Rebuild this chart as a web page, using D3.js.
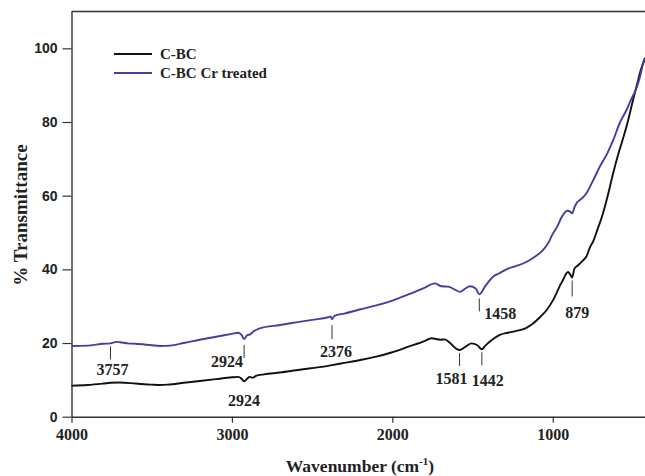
<!DOCTYPE html>
<html>
<head>
<meta charset="utf-8">
<script src="https://cdn.jsdelivr.net/npm/d3@7"></script>
<style>
  body { margin: 0; background: #fff; }
  svg { display: block; }
</style>
</head>
<body>
<svg id="chart" width="645" height="476"></svg>
<script>
// series: [wavenumber, % transmittance]
const cbc = [
  [4000, 8.4], [3900, 8.6], [3800, 9.0], [3757, 9.2], [3700, 9.3], [3600, 9.0],
  [3500, 8.7], [3449, 8.6], [3400, 8.7], [3300, 9.2], [3200, 9.7], [3100, 10.2],
  [3000, 10.7], [2960, 10.8], [2940, 10.3], [2924, 9.6], [2905, 10.3], [2890, 10.8],
  [2870, 10.6], [2850, 11.1], [2800, 11.5], [2700, 12.0], [2600, 12.6], [2500, 13.2],
  [2400, 13.8], [2376, 14.0], [2300, 14.6], [2200, 15.4], [2100, 16.3], [2000, 17.5],
  [1900, 19.0], [1800, 20.5], [1756, 21.3], [1700, 20.9], [1673, 21.0], [1640, 20.0],
  [1600, 18.4], [1581, 18.1], [1550, 18.8], [1507, 19.9], [1470, 19.4], [1442, 18.3],
  [1420, 19.3], [1380, 20.8], [1330, 22.2], [1280, 22.8], [1226, 23.3], [1170, 24.0],
  [1123, 25.3], [1080, 27.0], [1039, 28.9], [1000, 31.5], [977, 33.5], [955, 35.6],
  [936, 37.1], [915, 38.9], [905, 39.3], [890, 38.5], [879, 37.8], [865, 40.2],
  [842, 41.1], [810, 42.5], [791, 43.4], [767, 46.1], [749, 47.5], [720, 51.0],
  [697, 53.8], [660, 59.5], [624, 66.0], [590, 71.5], [562, 75.5], [530, 80.5],
  [500, 85.9], [470, 91.0], [458, 93.1], [440, 95.6], [425, 97.4]
];

const cbcCr = [
  [4000, 19.2], [3900, 19.3], [3800, 19.8], [3757, 19.9], [3720, 20.3], [3697, 20.2],
  [3650, 19.9], [3600, 19.8], [3500, 19.4], [3449, 19.2], [3386, 19.3], [3300, 20.0],
  [3200, 20.9], [3100, 21.7], [3000, 22.5], [2960, 22.8], [2940, 22.2], [2924, 21.1],
  [2905, 22.1], [2885, 22.4], [2867, 23.1], [2826, 24.0], [2700, 24.9], [2600, 25.6],
  [2500, 26.3], [2400, 27.0], [2385, 27.2], [2376, 26.5], [2360, 27.4], [2300, 28.0],
  [2203, 29.1], [2100, 30.2], [1995, 31.6], [1900, 33.2], [1800, 35.0], [1735, 36.2],
  [1693, 35.4], [1652, 35.3], [1610, 34.5], [1579, 33.9], [1545, 34.8], [1517, 35.4],
  [1480, 34.8], [1458, 33.2], [1420, 35.5], [1372, 38.0], [1330, 39.0], [1289, 40.0],
  [1230, 40.9], [1165, 42.0], [1110, 43.5], [1061, 45.2], [1030, 47.0], [999, 49.7],
  [970, 51.8], [947, 54.0], [925, 55.4], [911, 55.9], [890, 55.6], [879, 55.2],
  [865, 56.8], [853, 57.9], [820, 59.2], [791, 60.6], [750, 64.0], [708, 67.8],
  [660, 71.5], [624, 75.0], [580, 80.0], [541, 83.2], [510, 86.3], [479, 89.1],
  [455, 92.5], [437, 95.8], [425, 97.2]
];

const seriesNames = ["C-BC", "C-BC Cr treated"];
const seriesColors = ["#111111", "#433fa0"];

const xTicks = [4000, 3000, 2000, 1000];
const yTicks = [0, 20, 40, 60, 80, 100];

// peak labels: [wavenumber, which series (0 = C-BC, 1 = Cr treated), label]
const peaks = [
  [3757, 1, "3757"],
  [2924, 1, "2924"],
  [2376, 1, "2376"],
  [2924, 0, "2924"],
  [1458, 1, "1458"],
  [1581, 0, "1581"],
  [1442, 0, "1442"],
  [879, 0, "879"]
];

const svg = d3.select("#chart");
const plotLeft = 71.5, plotRight = 645, plotTop = 11.5, plotBottom = 416.7;

const x = d3.scaleLinear().domain([4000, 425]).range([plotLeft, plotRight]);
const y = d3.scaleLinear().domain([0, 110]).range([plotBottom, plotTop]);

const serif = "'Liberation Serif', 'Times New Roman', serif";
const sans = "'Liberation Sans', Arial, sans-serif";

// top frame line
svg.append("line")
  .attr("x1", plotLeft).attr("x2", plotRight)
  .attr("y1", plotTop).attr("y2", plotTop)
  .attr("stroke", "#333").attr("stroke-width", 1.4);

// axes
const xAxis = svg.append("g")
  .attr("transform", `translate(0,${plotBottom})`)
  .call(d3.axisBottom(x).tickValues(xTicks).tickFormat(d3.format("d"))
    .tickSize(6).tickPadding(6).tickSizeOuter(0));
xAxis.selectAll("text")
  .style("font-family", serif).style("font-weight", "bold")
  .style("font-size", "16px").attr("fill", "#222");

const yAxis = svg.append("g")
  .attr("transform", `translate(${plotLeft},0)`)
  .call(d3.axisLeft(y).tickValues(yTicks).tickSize(9).tickPadding(5).tickSizeOuter(0));
yAxis.selectAll("text")
  .style("font-family", sans).style("font-weight", "bold")
  .style("font-size", "14px").attr("fill", "#222");

svg.selectAll(".domain").attr("stroke", "#333").attr("stroke-width", 1.4);
svg.selectAll(".tick line").attr("stroke", "#333").attr("stroke-width", 1.2);

// curves
const line = d3.line().x(d => x(d[0])).y(d => y(d[1])).curve(d3.curveMonotoneX);
[cbc, cbcCr].forEach((data, i) => {
  svg.append("path")
    .datum(data)
    .attr("fill", "none")
    .attr("stroke", seriesColors[i])
    .attr("stroke-width", 1.9)
    .attr("stroke-linejoin", "round")
    .attr("d", line);
});

// peak markers
const peakG = svg.append("g")
  .style("font-family", serif).style("font-weight", "bold")
  .style("font-size", "16px").attr("fill", "#222");

function valueAt(data, wn) {
  const p = data.find(d => d[0] === wn);
  return p ? p[1] : 0;
}

peaks.forEach(([wn, s, label]) => {
  const data = s === 0 ? cbc : cbcCr;
  const py = y(valueAt(data, wn));
  const px = x(wn);
  if (label === "2924" && s === 0) {
    peakG.append("text").attr("x", px).attr("y", py + 25)
      .attr("text-anchor", "middle").text(label);
    return;
  }
  let y1 = py + 3, y2 = py + 16, tx = px, ty = py + 34, anchor = "middle";
  if (s === 1 && wn === 2924) { y1 = py + 6; y2 = py + 19; tx = px - 1; ty = py + 28; anchor = "end"; }
  if (wn === 1458) { y1 = py + 4; y2 = py + 17; tx = px + 5; ty = py + 25; anchor = "start"; }
  if (wn === 2376) { y1 = py + 6; y2 = py + 20; tx = px + 4; ty = py + 38; }
  if (wn === 879) { y1 = py + 3; y2 = py + 19; tx = px + 5; ty = py + 41; }
  if (wn === 1581) { tx = px - 8; }
  if (wn === 1442) { tx = px + 6; ty = py + 37; }
  if (wn === 3757) { tx = px + 2; ty = py + 32; }
  peakG.append("line")
    .attr("x1", px).attr("x2", px).attr("y1", y1).attr("y2", y2)
    .attr("stroke", "#333").attr("stroke-width", 1);
  peakG.append("text").attr("x", tx).attr("y", ty)
    .attr("text-anchor", anchor).text(label);
});

// legend
const legend = svg.append("g").attr("transform", "translate(114,54)");
seriesNames.forEach((name, i) => {
  const row = legend.append("g").attr("transform", `translate(0,${i * 19})`);
  row.append("line").attr("x1", 0).attr("x2", 38).attr("y1", 0).attr("y2", 0)
    .attr("stroke", seriesColors[i]).attr("stroke-width", 2);
  row.append("text").attr("x", 46).attr("y", 5)
    .style("font-family", serif).style("font-weight", "bold")
    .style("font-size", "15px").attr("fill", "#222").text(name);
});

// axis titles
svg.append("text")
  .attr("transform", "translate(27,215) rotate(-90)")
  .attr("text-anchor", "middle")
  .style("font-family", serif).style("font-weight", "bold")
  .style("font-size", "19px").attr("fill", "#222")
  .text("% Transmittance");

const xt = svg.append("text")
  .attr("x", 360).attr("y", 472)
  .attr("text-anchor", "middle")
  .style("font-family", serif).style("font-weight", "bold")
  .style("font-size", "17.5px").attr("fill", "#222");
xt.append("tspan").text("Wavenumber (cm");
xt.append("tspan").attr("dy", -7).style("font-size", "11px").text("-1");
xt.append("tspan").attr("dy", 7).text(")");
</script>
</body>
</html>
